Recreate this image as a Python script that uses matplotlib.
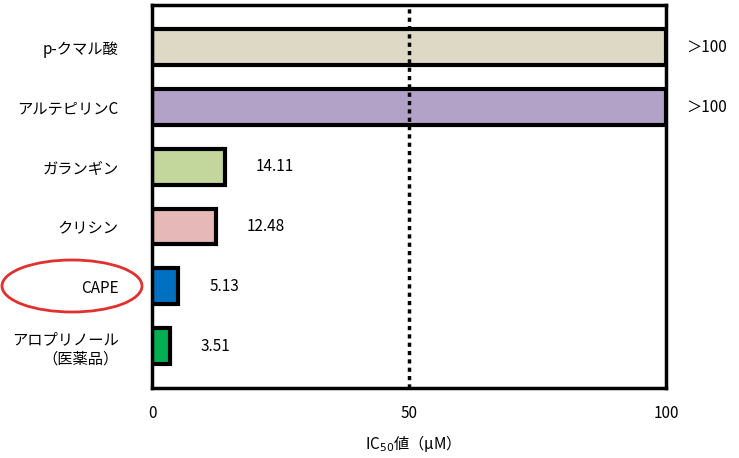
import matplotlib
matplotlib.use("Agg")
import matplotlib.pyplot as plt
from matplotlib.patches import Ellipse

plt.rcParams["font.family"] = ["Noto Sans CJK JP", "DejaVu Sans"]

categories = ["p-クマル酸", "アルテピリンC", "ガランギン", "クリシン", "CAPE", "アロプリノール\n（医薬品）"]
values = [100, 100, 14.11, 12.48, 5.13, 3.51]
value_labels = ["＞100", "＞100", "14.11", "12.48", "5.13", "3.51"]
colors = ["#DDD9C4", "#B3A2C7", "#C3D69B", "#E6B9B8", "#0070C0", "#00B050"]
xticks = [0, 50, 100]

fig = plt.figure(figsize=(7.39, 4.58), dpi=100)
ax = fig.add_axes([0.2057, 0.1528, 0.6955, 0.836])
ypos = list(range(len(categories)))[::-1]
ax.barh(ypos, values, height=0.6, color=colors, edgecolor="black", linewidth=3, clip_on=True)
ax.axvline(50, color="black", linestyle=(0, (1.2, 1.2)), linewidth=2.5)
for y, v, lab in zip(ypos, values, value_labels):
    if v >= 100:
        ax.text(104, y, lab, va="center", ha="left", fontsize=11, clip_on=False)
    else:
        ax.text(v + 6, y, lab, va="center", ha="left", fontsize=11)
ax.set_xlim(0, 100)
ax.set_ylim(-0.7, 5.7)
ax.set_yticks(ypos)
ax.set_yticklabels(categories, fontsize=11)
ax.set_xticks(xticks)
ax.set_xticklabels([str(t) for t in xticks], fontsize=11)
ax.tick_params(length=0, pad=12)
ax.tick_params(axis="y", pad=24)
for s in ax.spines.values():
    s.set_linewidth(2.5)
ax.set_xlabel("IC$_{50}$値（μM）", fontsize=11, labelpad=8)
ell = Ellipse((72 / 739, 1 - 286 / 458), 140 / 739, 52 / 458, transform=fig.transFigure,
              fill=False, edgecolor="#E03030", linewidth=2)
fig.patches.append(ell)
fig.savefig("out.png", dpi=100)
